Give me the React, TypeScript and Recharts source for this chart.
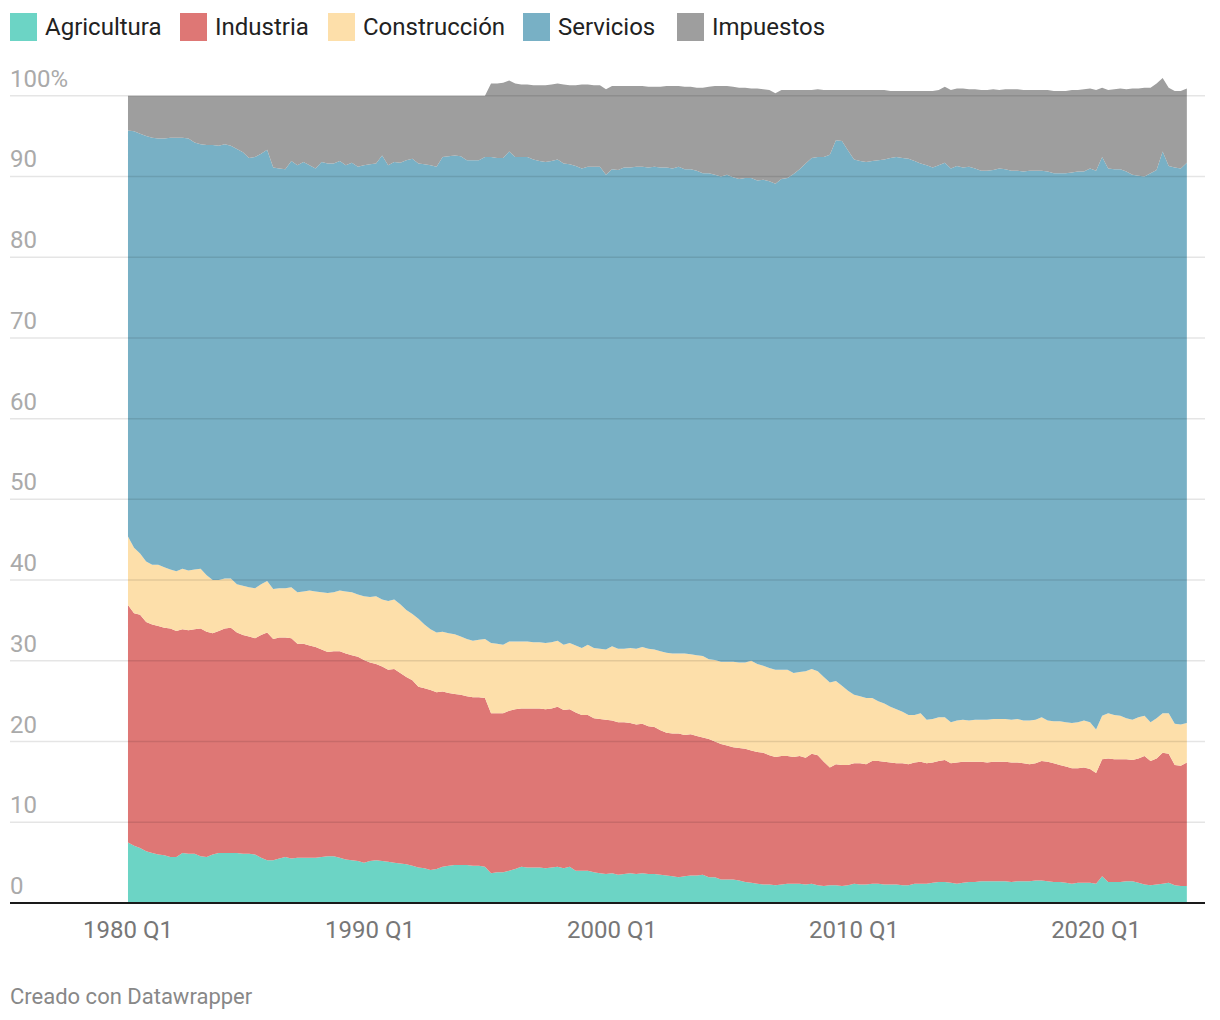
import { AreaChart, Area, XAxis, YAxis, ReferenceLine } from 'recharts'

// quarterly shares of GDP (%), 1980 Q1 – 2023 Q4
const years = Array.from({ length: 44 }, (_, k) => 1980 + k)
const quarters = years.flatMap((y) => ['Q1', 'Q2', 'Q3', 'Q4'].map((q) => `${y} ${q}`))
const xTicks = [0, 40, 80, 120, 160] // 1980 Q1, 1990 Q1, 2000 Q1, 2010 Q1, 2020 Q1
const yTicks = [0, 10, 20, 30, 40, 50, 60, 70, 80, 90, 100]

const agricultura = [
  7.5, 7.1, 6.8, 6.4, 6.2, 6.0, 5.9, 5.7, 5.7, 6.2, 6.1, 6.1, 5.8, 5.7, 6.0, 6.2,
  6.2, 6.2, 6.2, 6.1, 6.1, 6.0, 5.6, 5.3, 5.3, 5.5, 5.7, 5.5, 5.6, 5.6, 5.6, 5.6,
  5.7, 5.8, 5.8, 5.6, 5.4, 5.3, 5.2, 5.0, 5.2, 5.3, 5.2, 5.1, 5.0, 4.9, 4.8, 4.6,
  4.4, 4.3, 4.1, 4.2, 4.5, 4.6, 4.7, 4.7, 4.7, 4.6, 4.6, 4.5, 3.7, 3.8, 3.8, 4.0,
  4.2, 4.5, 4.4, 4.4, 4.4, 4.3, 4.4, 4.5, 4.3, 4.5, 4.0, 4.0, 4.0, 3.8, 3.7, 3.6,
  3.7, 3.5, 3.6, 3.7, 3.6, 3.7, 3.6, 3.6, 3.5, 3.4, 3.3, 3.2, 3.3, 3.4, 3.4, 3.5,
  3.2, 3.2, 2.9, 2.9, 2.9, 2.8, 2.6, 2.5, 2.4, 2.3, 2.3, 2.2, 2.3, 2.4, 2.4, 2.4,
  2.3, 2.4, 2.2, 2.1, 2.2, 2.2, 2.1, 2.2, 2.4, 2.3, 2.3, 2.4, 2.4, 2.3, 2.3, 2.3,
  2.2, 2.2, 2.4, 2.4, 2.4, 2.5, 2.6, 2.6, 2.5, 2.4, 2.5, 2.6, 2.6, 2.7, 2.7, 2.7,
  2.7, 2.7, 2.6, 2.7, 2.7, 2.7, 2.8, 2.8, 2.7, 2.6, 2.6, 2.5, 2.4, 2.5, 2.5, 2.5,
  2.4, 3.3, 2.6, 2.6, 2.6, 2.7, 2.7, 2.5, 2.3, 2.2, 2.3, 2.4, 2.5, 2.2, 2.1, 2.1,
]

const industria = [
  29.4, 28.8, 28.9, 28.4, 28.3, 28.3, 28.2, 28.3, 28.0, 27.7, 27.7, 27.8, 28.2, 27.9, 27.4, 27.5,
  27.8, 27.9, 27.3, 27.1, 26.9, 26.8, 27.6, 28.2, 27.4, 27.4, 27.2, 27.3, 26.5, 26.5, 26.3, 26.1,
  25.7, 25.3, 25.4, 25.6, 25.5, 25.4, 25.3, 25.1, 24.6, 24.3, 24.1, 23.8, 24.0, 23.6, 23.2, 23.0,
  22.4, 22.3, 22.3, 21.9, 21.7, 21.4, 21.2, 21.1, 20.9, 20.9, 20.9, 20.9, 19.8, 19.7, 19.7, 19.8,
  19.8, 19.6, 19.7, 19.7, 19.7, 19.7, 19.7, 19.8, 19.6, 19.5, 19.6, 19.3, 19.3, 19.1, 19.1, 19.1,
  18.9, 18.9, 18.8, 18.6, 18.5, 18.5, 18.3, 18.2, 17.9, 17.7, 17.7, 17.8, 17.5, 17.5, 17.3, 17.0,
  17.1, 16.8, 16.8, 16.6, 16.4, 16.4, 16.5, 16.4, 16.3, 16.3, 16.0, 15.9, 15.9, 15.8, 15.7, 15.8,
  15.7, 16.1, 16.1, 15.4, 14.6, 15.0, 15.0, 14.9, 14.9, 15.0, 14.9, 15.2, 15.2, 15.2, 15.1, 15.0,
  15.1, 15.0, 15.0, 15.1, 14.9, 14.9, 15.0, 15.1, 14.8, 15.0, 15.0, 14.9, 14.9, 14.8, 14.7, 14.8,
  14.8, 14.8, 14.8, 14.7, 14.6, 14.5, 14.5, 14.8, 14.8, 14.7, 14.5, 14.4, 14.3, 14.2, 14.3, 14.1,
  13.7, 14.5, 15.3, 15.2, 15.2, 15.1, 15.0, 15.4, 15.9, 15.4, 15.6, 16.2, 16.0, 14.9, 14.9, 15.3,
]

const construccion = [
  8.5, 8.1, 7.6, 7.5, 7.4, 7.6, 7.5, 7.3, 7.4, 7.5, 7.4, 7.4, 7.4, 7.0, 6.6, 6.3,
  6.2, 6.1, 6.0, 6.1, 6.1, 6.2, 6.3, 6.4, 6.2, 6.1, 6.1, 6.3, 6.4, 6.5, 6.8, 6.9,
  7.1, 7.3, 7.3, 7.5, 7.7, 7.8, 7.7, 7.9, 8.1, 8.4, 8.3, 8.5, 8.6, 8.5, 8.3, 8.2,
  8.4, 7.9, 7.5, 7.4, 7.4, 7.4, 7.4, 7.2, 7.1, 7.0, 7.1, 7.3, 8.7, 8.6, 8.5, 8.6,
  8.4, 8.3, 8.3, 8.2, 8.2, 8.2, 8.2, 8.2, 8.1, 8.2, 8.3, 8.3, 8.7, 8.7, 8.7, 8.7,
  9.2, 9.1, 9.1, 9.3, 9.4, 9.5, 9.6, 9.6, 9.8, 9.9, 9.9, 9.9, 10.1, 9.9, 10.0, 10.1,
  9.9, 10.1, 10.2, 10.4, 10.6, 10.6, 10.7, 11.1, 10.9, 10.8, 10.8, 10.8, 10.7, 10.7, 10.4, 10.4,
  10.7, 10.5, 10.4, 10.5, 10.5, 10.3, 9.8, 9.2, 8.5, 8.3, 8.2, 7.8, 7.4, 7.2, 6.9, 6.7,
  6.4, 6.1, 5.9, 6.0, 5.4, 5.4, 5.4, 5.3, 5.1, 5.2, 5.2, 5.1, 5.2, 5.2, 5.3, 5.3,
  5.3, 5.3, 5.3, 5.4, 5.3, 5.4, 5.4, 5.4, 5.1, 5.2, 5.4, 5.5, 5.6, 5.7, 5.8, 5.8,
  5.4, 5.4, 5.6, 5.5, 5.4, 5.1, 5.0, 5.1, 5.0, 4.8, 5.0, 4.9, 5.0, 5.1, 5.1, 4.9,
]

const servicios = [
  50.3, 51.6, 52.0, 52.7, 52.9, 52.8, 53.1, 53.5, 53.7, 53.4, 53.5, 52.9, 52.6, 53.3, 53.9, 53.8,
  53.8, 53.6, 53.9, 53.7, 53.2, 53.4, 53.3, 53.4, 52.2, 52.0, 51.9, 52.8, 52.9, 53.2, 52.7, 52.4,
  53.3, 53.2, 53.1, 53.2, 52.8, 53.2, 53.0, 53.4, 53.6, 53.6, 55.0, 54.0, 54.2, 54.7, 55.7, 56.4,
  56.4, 57.0, 57.5, 57.7, 58.8, 59.1, 59.3, 59.5, 59.3, 59.5, 59.4, 59.7, 60.2, 60.2, 60.3, 60.7,
  60.0, 60.0, 60.0, 59.8, 59.6, 59.6, 59.6, 59.6, 59.6, 59.3, 59.4, 59.4, 59.2, 59.6, 59.7, 58.8,
  59.1, 59.3, 59.6, 59.5, 59.7, 59.5, 59.6, 59.8, 59.9, 60.1, 60.1, 60.3, 60.0, 60.1, 60.0, 59.8,
  60.2, 60.1, 60.1, 60.3, 60.0, 59.9, 60.0, 59.8, 59.9, 60.2, 60.3, 60.2, 60.8, 60.9, 61.8, 62.3,
  62.9, 63.3, 63.7, 64.4, 65.4, 67.0, 67.5, 66.9, 66.3, 66.3, 66.4, 66.5, 67.0, 67.4, 68.0, 68.4,
  68.6, 68.9, 68.6, 68.1, 68.7, 68.3, 68.4, 68.7, 68.6, 68.7, 68.4, 68.6, 68.3, 68.0, 68.0, 68.0,
  68.2, 68.1, 68.0, 67.9, 68.0, 68.1, 68.0, 67.7, 68.0, 67.9, 67.9, 68.0, 68.2, 68.2, 68.0, 68.6,
  69.2, 69.2, 67.5, 67.6, 67.7, 67.7, 67.5, 67.1, 66.8, 68.0, 67.9, 69.6, 67.8, 68.9, 68.9, 69.4,
]

const impuestos = [
  4.3, 4.4, 4.7, 5.0, 5.2, 5.3, 5.3, 5.2, 5.2, 5.2, 5.3, 5.8, 6.0, 6.1, 6.1, 6.2,
  6.0, 6.2, 6.6, 7.0, 7.7, 7.6, 7.2, 6.7, 8.9, 9.0, 9.1, 8.1, 8.6, 8.2, 8.6, 9.0,
  8.2, 8.4, 8.4, 8.1, 8.6, 8.3, 8.8, 8.6, 8.5, 8.4, 7.4, 8.6, 8.2, 8.3, 8.0, 7.8,
  8.4, 8.5, 8.6, 8.8, 7.6, 7.5, 7.4, 7.5, 8.0, 8.0, 8.0, 7.6, 9.1, 9.2, 9.3, 8.8,
  9.1, 9.0, 9.0, 9.2, 9.4, 9.5, 9.5, 9.4, 9.8, 9.8, 10.0, 10.4, 10.2, 10.1, 10.1, 10.6,
  10.3, 10.4, 10.1, 10.1, 10.0, 10.0, 10.0, 9.9, 10.0, 10.1, 10.2, 10.0, 10.2, 10.2, 10.3, 10.6,
  10.7, 11.0, 11.2, 11.0, 11.2, 11.3, 11.2, 11.1, 11.4, 11.2, 11.3, 11.2, 11.0, 10.9, 10.4, 9.8,
  9.1, 8.4, 8.4, 8.3, 8.0, 6.2, 6.3, 7.5, 8.6, 8.8, 8.9, 8.8, 8.7, 8.6, 8.3, 8.2,
  8.3, 8.4, 8.7, 9.0, 9.2, 9.5, 9.3, 9.4, 9.7, 9.6, 9.8, 9.6, 9.8, 10.0, 10.0, 10.0,
  9.7, 9.9, 10.1, 10.1, 10.1, 10.0, 10.0, 10.0, 10.1, 10.2, 10.2, 10.2, 10.2, 10.1, 10.2, 9.9,
  10.0, 8.6, 9.7, 9.9, 10.0, 10.2, 10.7, 10.8, 11.0, 10.6, 10.7, 9.1, 9.7, 9.5, 9.6, 9.2,
]

const series = [
  { key: 'Agricultura', color: '#6cd4c5', legendX: 10 },
  { key: 'Industria', color: '#de7775', legendX: 180 },
  { key: 'Construcción', color: '#fddfaa', legendX: 328 },
  { key: 'Servicios', color: '#78b0c5', legendX: 523 },
  { key: 'Impuestos', color: '#9e9e9e', legendX: 677 },
]

const data = quarters.map((q, i) => ({
  idx: i,
  quarter: q,
  Agricultura: agricultura[i],
  Industria: industria[i],
  Construcción: construccion[i],
  Servicios: servicios[i],
  Impuestos: impuestos[i],
}))

const FONT = 'Roboto, "Noto Sans", sans-serif'

function XTick(props: any) {
  return (
    <text x={props.x} y={938} textAnchor="middle" fill="#777" fontSize={24} fontFamily={FONT}>
      {quarters[props.payload.value]}
    </text>
  )
}

function YTick(props: any) {
  const v = props.payload.value
  return (
    <text x={10} y={props.y - 9} textAnchor="start" fill="#aaa" fontSize={24} fontFamily={FONT}>
      {v === 100 ? '100%' : v}
    </text>
  )
}

export default function App() {
  return (
    <div style={{ position: 'absolute', left: 0, top: 0, width: 1220, height: 1020, background: '#fff', fontFamily: FONT }}>
      {series.map((s) => (
        <div key={s.key} style={{ position: 'absolute', left: s.legendX, top: 13, height: 28, display: 'flex', alignItems: 'center' }}>
          <div style={{ width: 27, height: 28, background: s.color }} />
          <span style={{ marginLeft: 8, fontSize: 24, color: '#222', lineHeight: '28px' }}>{s.key}</span>
        </div>
      ))}

      <AreaChart
        width={1220}
        height={1020}
        data={data}
        margin={{ top: 15, right: 15, bottom: 77, left: 10 }}
        style={{ position: 'absolute', left: 0, top: 0 }}
      >
        <XAxis
          dataKey="idx"
          type="number"
          domain={[-19.5, 178]}
          allowDataOverflow
          ticks={xTicks}
          height={40}
          axisLine={false}
          tickLine={false}
          tick={XTick}
        />
        <YAxis type="number" domain={[0, 110]} ticks={yTicks} mirror axisLine={false} tickLine={false} tick={YTick} />
        {series.map((s) => (
          <Area
            key={s.key}
            type="linear"
            dataKey={s.key}
            stackId="1"
            stroke="none"
            fill={s.color}
            fillOpacity={1}
            isAnimationActive={false}
          />
        ))}
        {yTicks.slice(1).map((v) => (
          <ReferenceLine key={v} y={v} stroke="#000" strokeOpacity={0.1} strokeWidth={1.5} />
        ))}
        <ReferenceLine y={0} stroke="#1a1a1a" strokeWidth={2} />
      </AreaChart>

      <div style={{ position: 'absolute', left: 10, top: 984, fontSize: 22, color: '#888', lineHeight: '26px' }}>
        Creado con Datawrapper
      </div>
    </div>
  )
}
